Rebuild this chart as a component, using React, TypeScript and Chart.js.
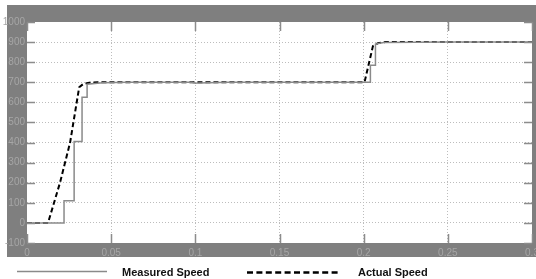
import React, { useEffect, useRef } from "react";
import { Chart, registerables } from "chart.js";

Chart.register(...registerables);

// Measured speed (solid gray, stepped)
const measuredT = [0, 0.022, 0.022, 0.028, 0.028, 0.0327, 0.0327, 0.0357, 0.0357, 0.045, 0.06, 0.098, 0.1, 0.102, 0.12, 0.2, 0.204, 0.204, 0.207, 0.207, 0.212, 0.25, 0.3];
const measuredV = [0, 0, 110, 110, 405, 405, 625, 625, 690, 698, 700, 700, 695, 697, 700, 700, 700, 785, 785, 890, 898, 900, 900];

// Actual speed (dashed black)
const actualT = [0, 0.0125, 0.0196, 0.0256, 0.031, 0.0335, 0.037, 0.042, 0.1, 0.15, 0.2005, 0.2055, 0.2085, 0.213, 0.25, 0.3];
const actualV = [0, 0, 200, 400, 675, 692, 698, 700, 700, 700, 700, 880, 895, 900, 900, 900];

const xTicks = [0, 0.05, 0.1, 0.15, 0.2, 0.25, 0.3];
const yTicks = [-100, 0, 100, 200, 300, 400, 500, 600, 700, 800, 900, 1000];

const legendLabels = ["Measured Speed", "Actual Speed"];

export default function App() {
  const ref = useRef<HTMLCanvasElement>(null);
  useEffect(() => {
    document.body.style.margin = "0";
    const framePlugin = {
      id: "frame",
      beforeDraw(chart: any) {
        const { ctx, chartArea: a } = chart;
        ctx.save();
        ctx.fillStyle = "#ffffff";
        ctx.fillRect(0, 0, chart.width, chart.height);
        ctx.fillStyle = "#7f7f7f";
        ctx.fillRect(7, 5, chart.width - 7, 257 - 5);
        ctx.fillStyle = "#ffffff";
        ctx.fillRect(a.left, a.top, a.right - a.left, a.bottom - a.top);
        ctx.restore();
      },
      afterDatasetsDraw(chart: any) {
        const { ctx, chartArea: a, scales } = chart;
        ctx.save();
        ctx.strokeStyle = "#8c8c8c";
        ctx.lineWidth = 1.5;
        ctx.beginPath();
        yTicks.forEach((v) => {
          const y = Math.round(scales.y.getPixelForValue(v)) + 0.5;
          ctx.moveTo(a.left, y);
          ctx.lineTo(a.left + 8, y);
          ctx.moveTo(a.right, y);
          ctx.lineTo(a.right - 8, y);
        });
        xTicks.forEach((v) => {
          const x = Math.round(scales.x.getPixelForValue(v)) + 0.5;
          ctx.moveTo(x, a.bottom);
          ctx.lineTo(x, a.bottom - 9);
          ctx.moveTo(x, a.top);
          ctx.lineTo(x, a.top + 9);
        });
        ctx.stroke();
        ctx.restore();
      },
      afterDraw(chart: any) {
        const { ctx } = chart;
        ctx.save();
        ctx.strokeStyle = "#8a8a8a";
        ctx.lineWidth = 1.5;
        ctx.beginPath();
        ctx.moveTo(17, 271.5);
        ctx.lineTo(107, 271.5);
        ctx.stroke();
        ctx.strokeStyle = "#000000";
        ctx.lineWidth = 2.5;
        ctx.setLineDash([6, 3.4]);
        ctx.beginPath();
        ctx.moveTo(247, 272.5);
        ctx.lineTo(340, 272.5);
        ctx.stroke();
        ctx.setLineDash([]);
        ctx.fillStyle = "#111111";
        ctx.font = "bold 11px 'Liberation Sans', Arial, sans-serif";
        ctx.textBaseline = "alphabetic";
        ctx.fillText(legendLabels[0], 122, 276);
        ctx.fillText(legendLabels[1], 358, 276);
        ctx.restore();
      },
    };

    const gridColor = (ctx: any) => {
      const v = ctx.tick && ctx.tick.value;
      if (ctx.scale.axis === "y" && (v === -100 || v === 1000)) return "rgba(0,0,0,0)";
      if (ctx.scale.axis === "x" && (v === 0 || v === 0.3)) return "rgba(0,0,0,0)";
      return "#bdbdbd";
    };

    const chart = new Chart(ref.current!, {
      type: "line",
      data: {
        datasets: [
          {
            label: legendLabels[0],
            data: measuredT.map((t, i) => ({ x: t, y: measuredV[i] })),
            borderColor: "#8a8a8a",
            borderWidth: 1.5,
            pointRadius: 0,
            tension: 0,
            fill: false,
          },
          {
            label: legendLabels[1],
            data: actualT.map((t, i) => ({ x: t, y: actualV[i] })),
            borderColor: "#000000",
            borderWidth: 2,
            borderDash: [5, 3],
            pointRadius: 0,
            tension: 0,
            fill: false,
          },
        ],
      },
      plugins: [framePlugin],
      options: {
        animation: false,
        responsive: false,
        devicePixelRatio: 1,
        layout: { padding: { left: 0, right: 4, top: 22, bottom: 20 } },
        plugins: { legend: { display: false }, tooltip: { enabled: false } },
        scales: {
          x: {
            type: "linear",
            min: 0,
            max: 0.3,
            afterBuildTicks: (s: any) => {
              s.ticks = xTicks.map((v) => ({ value: v }));
            },
            afterFit: (s: any) => {
              s.height = 16;
              s.paddingLeft = 0;
              s.paddingRight = 0;
            },
            ticks: {
              color: "#a6a6a6",
              font: { family: "'Liberation Sans Narrow', 'Liberation Sans', sans-serif", size: 10 },
              padding: 4,
              maxRotation: 0,
              autoSkip: false,
              callback: (v: any) => String(Number(v)),
            },
            grid: { color: gridColor, drawTicks: false, lineWidth: 1 },
            border: { display: false, dash: [1, 2] },
          },
          y: {
            type: "linear",
            min: -100,
            max: 1000,
            afterBuildTicks: (s: any) => {
              s.ticks = yTicks.map((v) => ({ value: v }));
            },
            afterFit: (s: any) => {
              s.width = 27;
              s.paddingTop = 0;
              s.paddingBottom = 0;
            },
            ticks: {
              color: "#a6a6a6",
              font: { family: "'Liberation Sans Narrow', 'Liberation Sans', sans-serif", size: 10 },
              padding: 2,
              autoSkip: false,
              callback: (v: any) => String(v),
            },
            grid: { color: gridColor, drawTicks: false, lineWidth: 1 },
            border: { display: false, dash: [1, 2] },
          },
        },
      },
    });
    return () => chart.destroy();
  }, []);
  return (
    <div style={{ position: "absolute", left: 0, top: 0, width: 536, height: 279 }}>
      <canvas ref={ref} width={536} height={279} style={{ width: 536, height: 279 }} />
    </div>
  );
}
